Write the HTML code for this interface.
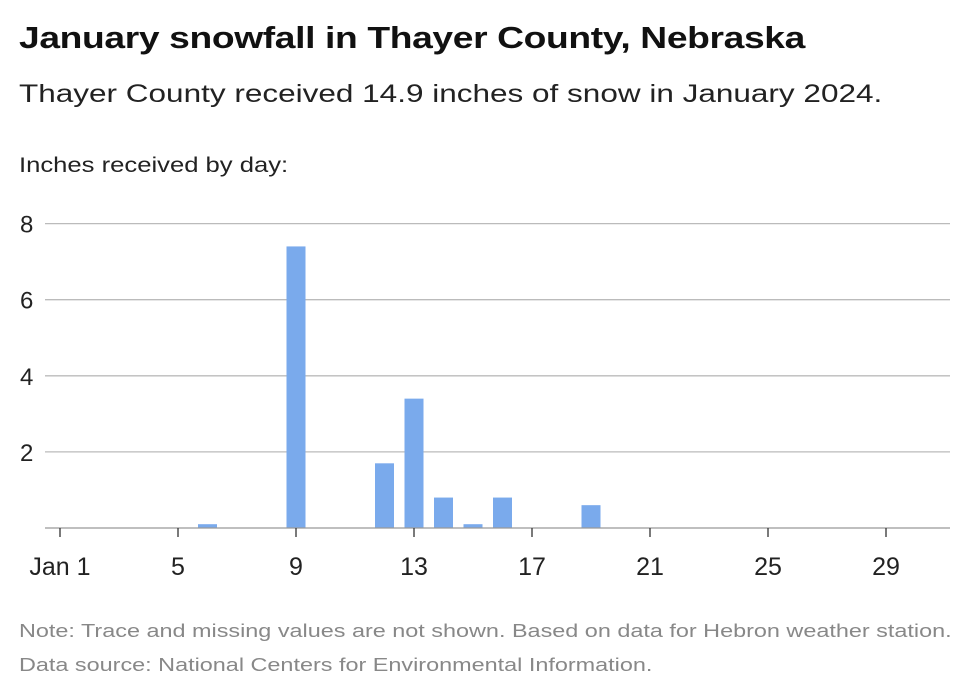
<!DOCTYPE html>
<html><head><meta charset="utf-8"><style>
body{margin:0;background:#fff;font-family:"Liberation Sans",sans-serif;}
.wrap{position:relative;width:980px;height:699px;overflow:hidden}
h1,.sub,.lab,.note{transform-origin:0 0;white-space:nowrap}
h1{position:absolute;left:19px;top:20px;margin:0;font-size:31px;font-weight:bold;color:#111;letter-spacing:-0.3px;transform:scaleX(1.2)}
.sub{position:absolute;left:19px;top:80px;font-size:25px;color:#222;transform:scaleX(1.26)}
.lab{position:absolute;left:19px;top:154px;font-size:21px;color:#222;transform:scaleX(1.22)}
.note{position:absolute;left:19px;font-size:18px;color:#888;transform:scaleX(1.3)}
svg{position:absolute;left:0;top:0}
</style></head><body>
<div class="wrap">
<h1>January snowfall in Thayer County, Nebraska</h1>
<div class="sub">Thayer County received 14.9 inches of snow in January 2024.</div>
<div class="lab">Inches received by day:</div>
<svg id="chart" width="980" height="699"></svg>
<div class="note" style="top:621px">Note: Trace and missing values are not shown. Based on data for Hebron weather station.</div>
<div class="note" style="top:655px">Data source: National Centers for Environmental Information.</div>
</div>
<script>
const days=[6,9,12,13,14,15,16,19];
const inches=[0.1,7.4,1.7,3.4,0.8,0.1,0.8,0.6];
const yTicks=[2,4,6,8];
const xTicks=[1,5,9,13,17,21,25,29];
const xTickLabels=["Jan 1","5","9","13","17","21","25","29"];
const NS="http://www.w3.org/2000/svg";
const svg=document.getElementById('chart');
const x=d=>60+(d-1)*29.5;
const y=v=>528-v*38.05;
function mk(t,a){const e=document.createElementNS(NS,t);for(const k in a)e.setAttribute(k,a[k]);svg.appendChild(e);return e;}
yTicks.forEach(v=>{
  const l=mk('line',{x1:45,x2:950,y1:y(v),y2:y(v),stroke:'#bbb','stroke-width':1.3});
  
  
  const t=mk('text',{x:20,y:y(v)+9,'font-size':24,fill:'#222'});
  t.textContent=v;
  
  
});
days.forEach((d,i)=>{
  const r=mk('rect',{x:x(d)-9.5,y:y(inches[i]),width:19,height:528-y(inches[i]),fill:'#7aaaec'});
  
  
});
const base=mk('line',{x1:45,x2:950,y1:528,y2:528,stroke:'#999','stroke-width':1.3});


xTicks.forEach((d,i)=>{
  const l=mk('line',{x1:x(d),x2:x(d),y1:528,y2:537,stroke:'#333','stroke-width':1.3});
  
  
  const t=mk('text',{x:x(d),y:575,'font-size':25,fill:'#222','text-anchor':'middle'});
  t.textContent=xTickLabels[i];
  
  
});
</script>
</body></html>
